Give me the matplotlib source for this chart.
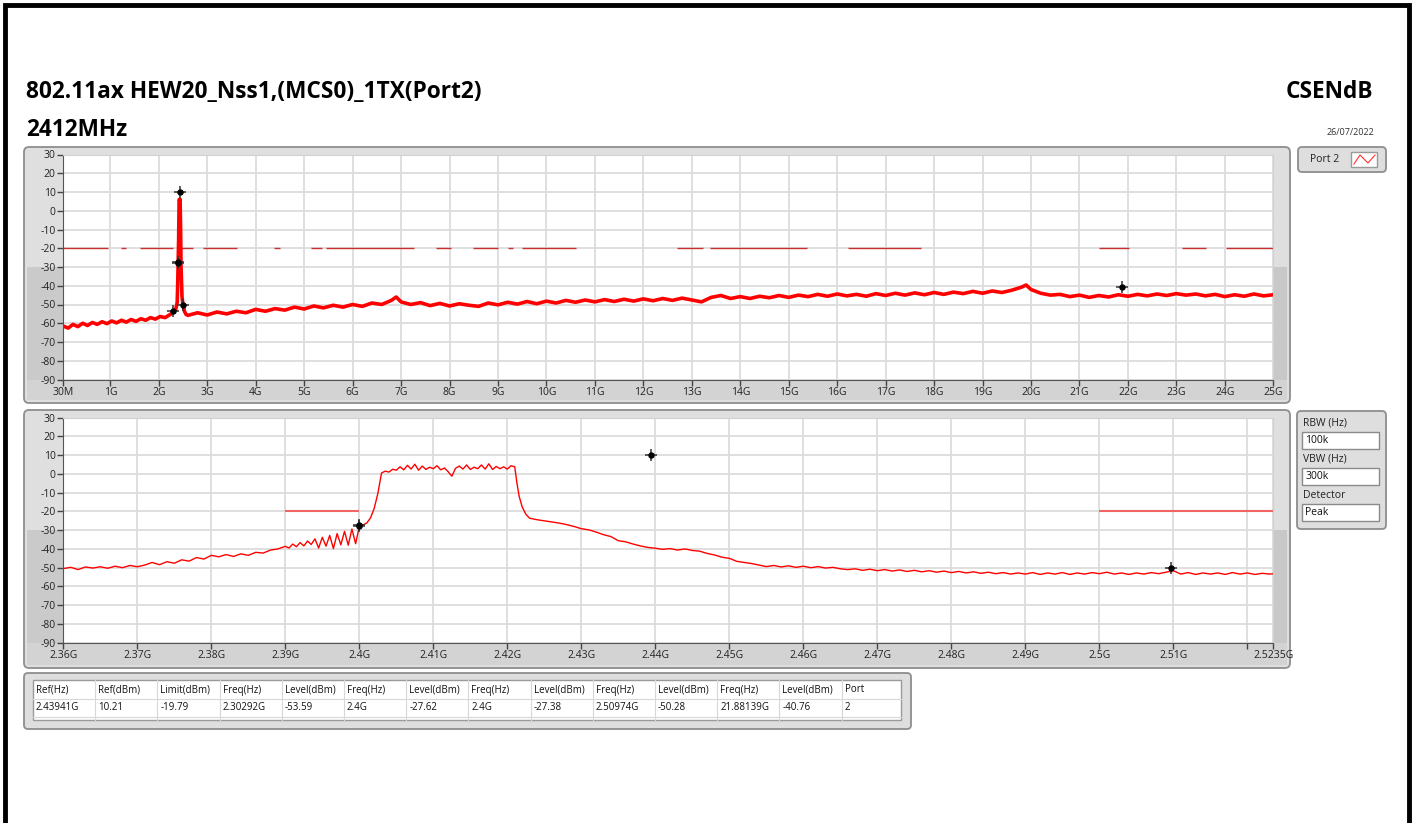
import matplotlib
matplotlib.use("Agg")
import matplotlib.pyplot as plt
from matplotlib.patches import FancyBboxPatch, Rectangle

plt.rcParams['font.family'] = ['Open Sans', 'DejaVu Sans']

W, H = 1415, 823

title = "802.11ax HEW20_Nss1,(MCS0)_1TX(Port2)"
subtitle = "2412MHz"
mode_name = "CSENdB"
date_str = "26/07/2022"
port_name = "Port 2"

# wide sweep 30M..25G, frequency in GHz, level in dBm
wide_f = [0.03, 0.13, 0.23, 0.33, 0.43, 0.53, 0.63, 0.73, 0.83, 0.93,
          1.03, 1.13, 1.23, 1.33, 1.43, 1.53, 1.63, 1.73, 1.83, 1.93,
          2.03, 2.13, 2.23, 2.30, 2.35, 2.38, 2.39, 2.40, 2.41, 2.42,
          2.43, 2.44, 2.45, 2.46, 2.48, 2.50, 2.53, 2.56,
          2.6, 2.8, 3.0, 3.2, 3.4, 3.6, 3.8, 4.0, 4.2, 4.4, 4.6, 4.8,
          5.0, 5.2, 5.4, 5.6, 5.8, 6.0, 6.2, 6.4, 6.6, 6.8, 6.9, 7.0,
          7.2, 7.4, 7.6, 7.8, 8.0, 8.2, 8.4, 8.6, 8.8, 9.0, 9.2, 9.4,
          9.6, 9.8, 10.0, 10.2, 10.4, 10.6, 10.8, 11.0, 11.2, 11.4, 11.6,
          11.8, 12.0, 12.2, 12.4, 12.6, 12.8, 13.0, 13.2, 13.4, 13.6,
          13.8, 14.0, 14.2, 14.4, 14.6, 14.8, 15.0, 15.2, 15.4, 15.6,
          15.8, 16.0, 16.2, 16.4, 16.6, 16.8, 17.0, 17.2, 17.4, 17.6,
          17.8, 18.0, 18.2, 18.4, 18.6, 18.8, 19.0, 19.2, 19.4, 19.6,
          19.8, 19.9, 20.0, 20.2, 20.4, 20.6, 20.8, 21.0, 21.2, 21.4,
          21.6, 21.8, 22.0, 22.2, 22.4, 22.6, 22.8, 23.0, 23.2, 23.4,
          23.6, 23.8, 24.0, 24.2, 24.4, 24.6, 24.8, 25.0]
wide_lvl = [-61.5, -62.6, -60.6, -61.8, -60.0, -61.2, -59.6, -60.6, -59.2, -60.2,
            -58.8, -59.8, -58.4, -59.4, -58.0, -59.0, -57.6, -58.4, -57.0, -57.8,
            -56.4, -57.0, -55.4, -54.2, -52.6, -49.0, -40.0, -27.6, -15.0, 6.0,
            5.6, 6.2, -8.0, -30.0, -46.0, -50.2, -53.6, -55.2,
            -55.8, -54.4, -55.6, -54.0, -55.0, -53.6, -54.4, -52.6, -53.6, -52.2, -53.0, -51.4,
            -52.4, -50.8, -51.8, -50.4, -51.4, -50.0, -51.0, -49.2, -50.0, -47.8, -46.0, -48.6,
            -50.0, -49.0, -50.6, -49.4, -50.8, -49.6, -50.4, -51.0, -49.2, -50.2, -48.8, -49.8,
            -48.4, -49.6, -48.2, -49.2, -47.8, -48.8, -47.6, -48.6, -47.4, -48.4, -47.2,
            -48.2, -47.0, -48.0, -46.8, -47.8, -46.6, -47.6, -48.6, -46.2, -45.2,
            -46.8, -45.8, -46.8, -45.6, -46.4, -45.2, -46.2, -45.0, -45.8, -44.6,
            -45.6, -44.4, -45.4, -44.6, -45.6, -44.2, -45.2, -44.0, -45.0, -43.8,
            -44.8, -43.6, -44.6, -43.4, -44.2, -43.0, -44.0, -42.8, -43.6, -42.4,
            -40.8, -39.6, -42.0, -44.0, -45.0, -44.6, -45.8, -45.0, -46.2, -45.2,
            -46.0, -44.8, -45.6, -44.6, -45.4, -44.4, -45.2, -44.2, -45.0, -44.4,
            -45.4, -44.6, -45.8, -44.8, -45.6, -44.4, -45.4, -44.8]
limit_db = -19.79
wide_limit_segs = [(0.03, 0.955), (1.22, 1.33), (1.61, 2.30), (2.40, 2.71),
                   (2.92, 3.62), (4.38, 4.50), (5.14, 5.37), (5.45, 7.27),
                   (7.73, 8.04), (8.49, 9.01), (9.21, 9.32), (9.50, 10.62),
                   (12.70, 13.24), (13.38, 15.37), (16.22, 17.72),
                   (21.40, 22.02), (23.11, 23.61), (24.02, 25.0)]

# zoomed sweep around the band edge, frequency in MHz
zoom_f_mhz = [2360, 2361, 2362, 2363, 2364, 2365, 2366, 2367, 2368, 2369,
              2370, 2371, 2372, 2373, 2374, 2375, 2376, 2377, 2378, 2379,
              2380, 2381, 2382, 2383, 2384, 2385, 2386, 2387, 2388, 2389,
              2390, 2390.5, 2391, 2391.5, 2392, 2392.5, 2393, 2393.5, 2394, 2394.5,
              2395, 2395.5, 2396, 2396.5, 2397, 2397.5, 2398, 2398.5, 2399, 2399.5,
              2400, 2400.5, 2401, 2401.5, 2402, 2402.5, 2403, 2403.5, 2404, 2404.5,
              2405, 2405.5, 2406, 2406.5, 2407, 2407.5, 2408, 2408.5, 2409, 2409.5,
              2410, 2410.5, 2411, 2411.5, 2412, 2412.5, 2413, 2413.5, 2414, 2414.5,
              2415, 2415.5, 2416, 2416.5, 2417, 2417.5, 2418, 2418.5, 2419, 2419.5,
              2420, 2420.5, 2421, 2421.3, 2421.6, 2422, 2422.5, 2423, 2424, 2425,
              2426, 2427, 2428, 2429, 2430, 2431, 2432, 2433, 2434, 2435,
              2436, 2437, 2438, 2439, 2440, 2441, 2442, 2443, 2444, 2445,
              2446, 2447, 2448, 2449, 2450, 2451, 2452, 2453, 2454, 2455,
              2456, 2457, 2458, 2459, 2460, 2461, 2462, 2463, 2464, 2465,
              2466, 2467, 2468, 2469, 2470, 2471, 2472, 2473, 2474, 2475,
              2476, 2477, 2478, 2479, 2480, 2481, 2482, 2483, 2484, 2485,
              2486, 2487, 2488, 2489, 2490, 2491, 2492, 2493, 2494, 2495,
              2496, 2497, 2498, 2499, 2500, 2501, 2502, 2503, 2504, 2505,
              2506, 2507, 2508, 2509, 2510, 2511, 2512, 2513, 2514, 2515,
              2516, 2517, 2518, 2519, 2520, 2521, 2522, 2523, 2523.5]
zoom_lvl = [-50.5, -49.8, -51.0, -49.6, -50.2, -49.5, -50.3, -49.2, -50.0, -48.8,
            -49.5, -48.6, -47.2, -48.4, -46.8, -47.6, -45.8, -46.5, -44.6, -45.4,
            -43.4, -44.2, -43.0, -44.0, -42.6, -43.4, -41.8, -42.2, -40.6, -40.0,
            -38.6, -39.5, -37.4, -38.8, -36.6, -38.4, -35.8, -37.6, -34.6, -39.5,
            -33.8, -38.5, -32.8, -39.8, -31.8, -37.8, -30.6, -38.0, -29.4, -37.2,
            -28.0, -27.2, -26.2, -23.5, -18.5, -10.5, 0.5, 1.5, 1.0, 2.5,
            2.0, 3.8, 2.2, 4.6, 2.6, 5.2, 2.0, 4.2, 2.4, 3.6,
            2.8, 4.4, 2.2, 3.2, 1.2, -1.2, 3.0, 4.2, 2.6, 4.8,
            2.4, 3.6, 2.8, 4.8, 2.6, 5.4, 2.4, 4.0, 2.8, 3.8,
            2.6, 4.4, 3.8, -5.0, -12.0, -17.5, -21.5, -23.6, -24.4, -25.0,
            -25.6, -26.2, -27.0, -28.0, -29.2, -29.8, -31.0, -32.4, -33.4, -35.6,
            -36.2, -37.4, -38.4, -39.2, -39.6, -40.2, -39.8, -40.6, -40.0, -40.8,
            -41.2, -42.4, -43.2, -44.4, -45.0, -46.6, -47.2, -47.8, -48.6, -49.4,
            -48.8, -49.6, -49.0, -49.8, -49.2, -50.0, -49.4, -50.2, -49.8, -50.6,
            -51.0, -50.6, -51.4, -50.8, -51.6, -51.0, -51.8, -51.2, -52.0, -51.4,
            -52.2, -51.6, -52.4, -51.8, -52.6, -52.0, -52.8, -52.2, -53.0, -52.4,
            -53.2, -52.6, -53.4, -52.8, -53.4, -52.6, -53.6, -52.8, -53.4, -52.6,
            -53.6, -52.8, -53.4, -52.6, -53.2, -52.4, -53.4, -52.8, -53.6, -52.8,
            -53.4, -52.6, -53.2, -52.4, -51.6, -53.4, -52.6, -53.6, -52.8, -53.4,
            -52.8, -53.6, -52.6, -53.4, -52.8, -53.6, -53.0, -53.4, -53.2]
zoom_limit_segs = [(2.39, 2.40), (2.50, 2.5235)]

# markers (GHz, dBm)
mark_f = [2.43941, 2.30292, 2.4, 2.4, 2.50974, 21.88139]
mark_lvl = [10.21, -53.59, -27.62, -27.38, -50.28, -40.76]

wide_ticks = [0.03] + list(range(1, 26))
wide_ticklabels = ["30M"] + ["%dG" % i for i in range(1, 26)]
zoom_ticks = [2.36, 2.37, 2.38, 2.39, 2.40, 2.41, 2.42, 2.43, 2.44,
              2.45, 2.46, 2.47, 2.48, 2.49, 2.50, 2.51, 2.52, 2.5235]
zoom_ticklabels = ["2.36G", "2.37G", "2.38G", "2.39G", "2.4G", "2.41G",
                   "2.42G", "2.43G", "2.44G", "2.45G", "2.46G", "2.47G",
                   "2.48G", "2.49G", "2.5G", "2.51G", "", "2.5235G"]
y_ticks = list(range(30, -91, -10))

table_head = ["Ref(Hz)", "Ref(dBm)", "Limit(dBm)", "Freq(Hz)", "Level(dBm)",
              "Freq(Hz)", "Level(dBm)", "Freq(Hz)", "Level(dBm)", "Freq(Hz)",
              "Level(dBm)", "Freq(Hz)", "Level(dBm)", "Port"]
table_row = ["2.43941G", "10.21", "-19.79", "2.30292G", "-53.59", "2.4G",
             "-27.62", "2.4G", "-27.38", "2.50974G", "-50.28", "21.88139G",
             "-40.76", "2"]

settings = [("RBW (Hz)", "100k"), ("VBW (Hz)", "300k"), ("Detector", "Peak")]


def px(x0, y0, x1, y1):
    return [x0 / W, 1 - y1 / H, (x1 - x0) / W, (y1 - y0) / H]


fig = plt.figure(figsize=(W / 100, H / 100), dpi=100)
bg = fig.add_axes([0, 0, 1, 1])
bg.set_xlim(0, W)
bg.set_ylim(H, 0)
bg.axis('off')

# outer black border
bg.plot([5, 5, 1409, 1409], [823, 5, 5, 823], color='black', lw=3.5,
        solid_joinstyle='miter')

bg.text(26, 92, title, fontsize=16.3, fontweight='bold', va='center', ha='left')
bg.text(26, 130, subtitle, fontsize=16.3, fontweight='bold', va='center', ha='left')
bg.text(1373, 92, mode_name, fontsize=16.3, fontweight='bold', va='center', ha='right')
bg.text(1374, 132, date_str, fontsize=6.5, va='center', ha='right', color='#333333')


def panel(y0, y1, ptop, pbot):
    split = ptop + (pbot - ptop) * 0.5
    bg.add_patch(FancyBboxPatch((24, y0), 1266, y1 - y0,
                                boxstyle="round,pad=0,rounding_size=5",
                                fc="#dfdfdf", ec="#8e8e8e", lw=1.3))
    bg.add_patch(Rectangle((27, split), 36, pbot - split, fc="#cacaca", ec="none"))
    bg.add_patch(Rectangle((1274, split), 13, pbot - split, fc="#c8c8c8", ec="none"))
    bg.add_patch(Rectangle((27, pbot), 1260, y1 - 3 - pbot, fc="#d3d3d3", ec="none"))


panel(147, 403, 154.5, 379.5)
panel(410, 668, 417.7, 642.7)


def style_axes(ax):
    ax.set_facecolor('white')
    ax.set_ylim(-90, 30)
    ax.set_yticks(y_ticks)
    ax.set_yticklabels([str(v) for v in y_ticks])
    ax.grid(True, color='#dcdcdc', lw=1.3)
    ax.set_axisbelow(True)
    ax.tick_params(axis='both', labelsize=7.5, length=4, width=1,
                   color='#444444', labelcolor='#222222', pad=1.5)
    for side in ['left', 'bottom']:
        ax.spines[side].set_color('#555555')
    for side in ['top', 'right']:
        ax.spines[side].set_color('#d0d0d0')


def draw_markers(ax):
    ax.plot(mark_f, mark_lvl, linestyle='none', marker='+', ms=8,
            mew=1.1, color='#333333', zorder=5)
    ax.plot(mark_f, mark_lvl, linestyle='none', marker='o', ms=3.6,
            color='black', zorder=6)


def draw_limit(ax, segs, **kw):
    ax.hlines([limit_db] * len(segs), [s[0] for s in segs], [s[1] for s in segs], **kw)


# wide sweep
ax1 = fig.add_axes(px(63.3, 154.5, 1273.3, 379.5))
style_axes(ax1)
ax1.set_xlim(0.03, 25)
ax1.set_xticks(wide_ticks)
ax1.set_xticklabels(wide_ticklabels)
draw_limit(ax1, wide_limit_segs, color='#c83030', lw=1)
ax1.plot(wide_f, wide_lvl, color='#ff0000', lw=2.6)
draw_markers(ax1)

# zoomed sweep
ax2 = fig.add_axes(px(63.3, 417.7, 1273.3, 642.7))
style_axes(ax2)
ax2.set_xlim(2.36, 2.5235)
ax2.set_xticks(zoom_ticks)
ax2.set_xticklabels(zoom_ticklabels)
draw_limit(ax2, zoom_limit_segs, color='#f06464', lw=1.5)
ax2.plot([f / 1000 for f in zoom_f_mhz], zoom_lvl, color='#ff0000', lw=1)
draw_markers(ax2)

# legend box
bg.add_patch(FancyBboxPatch((1298, 147), 88, 25, boxstyle="round,pad=0,rounding_size=4",
                            fc="#dedede", ec="#8e8e8e", lw=1.3))
bg.text(1310, 159.5, port_name, fontsize=7.5, va='center', ha='left', color='#222222')
bg.add_patch(Rectangle((1351, 152), 26, 15, fc='white', ec='#9a9a9a', lw=1))
bg.plot([1354, 1360, 1368, 1375], [164, 155, 163, 155], color='#ff3030', lw=0.8)

# settings box
bg.add_patch(FancyBboxPatch((1297, 411), 89, 118, boxstyle="round,pad=0,rounding_size=4",
                            fc="#dedede", ec="#8e8e8e", lw=1.3))
for i, (lab, val) in enumerate(settings):
    yy = 423 + i * 36
    bg.text(1303, yy, lab, fontsize=7.5, va='center', ha='left', color='#222222')
    bg.add_patch(Rectangle((1302, yy + 9), 77, 17, fc='white', ec='#8a8a8a', lw=1))
    bg.text(1305, yy + 17.5, val, fontsize=7.5, va='center', ha='left', color='#111111')

# marker table
bg.add_patch(FancyBboxPatch((24, 673), 887, 56, boxstyle="round,pad=0,rounding_size=4",
                            fc="#dedede", ec="#8e8e8e", lw=1.3))
bg.add_patch(Rectangle((33, 680), 868, 40, fc='white', ec='#9a9a9a', lw=1))
col_w = 62.2
for i in range(len(table_head)):
    cx = 33 + col_w * i
    if i > 0:
        bg.plot([cx, cx], [680, 720], color='#d8d8d8', lw=0.8)
    bg.text(cx + 3, 690, table_head[i], fontsize=7, va='center', ha='left', color='#111111')
    bg.text(cx + 3, 707.5, table_row[i], fontsize=7, va='center', ha='left', color='#111111')
bg.plot([33, 901], [698.5, 698.5], color='#d8d8d8', lw=0.8)
bg.plot([33, 901], [716.5, 716.5], color='#d8d8d8', lw=0.8)

fig.savefig("out.png", dpi=100)
